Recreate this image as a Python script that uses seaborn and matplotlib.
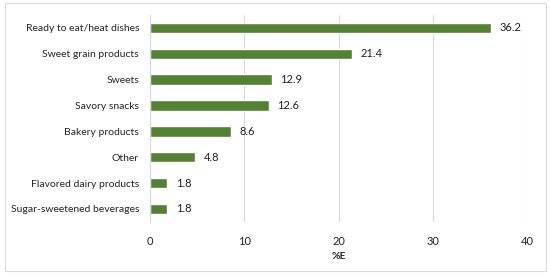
import matplotlib
matplotlib.use("Agg")
import matplotlib.pyplot as plt
import seaborn as sns
import pandas as pd
from matplotlib.patches import Rectangle

# DATA
categories = [
    "Ready to eat/heat dishes",
    "Sweet grain products",
    "Sweets",
    "Savory snacks",
    "Bakery products",
    "Other",
    "Flavored dairy products",
    "Sugar-sweetened beverages",
]
energy_pct = [36.2, 21.4, 12.9, 12.6, 8.6, 4.8, 1.8, 1.8]
x_ticks = [0, 10, 20, 30, 40]

df = pd.DataFrame({"category": categories, "value": energy_pct})

sns.set_style("white")
plt.rcParams["font.family"] = ["Lato", "DejaVu Sans"]

fig = plt.figure(figsize=(5.5, 2.77), dpi=100)
ax = fig.add_axes([0.273, 0.199, 0.685, 0.747])

sns.barplot(
    data=df,
    x="value",
    y="category",
    color="#548235",
    saturation=1,
    width=0.4,
    ax=ax
)

for i, v in enumerate(energy_pct):
    ax.text(v + 0.9, i, f"{v}", va="center", ha="left",
            fontsize=8, color="#222222")

ax.set_xlim(0, 40)
ax.set_ylim(7.5, -0.5)
ax.set_xticks(x_ticks)
ax.xaxis.grid(True, color="#d9d9d9", linewidth=0.8)
ax.set_axisbelow(True)

for side in ["top", "right", "bottom"]:
    ax.spines[side].set_visible(False)
ax.spines["left"].set_color("#d9d9d9")
ax.spines["left"].set_linewidth(0.8)

ax.set_yticks([i + 0.5 for i in range(-1, 8)], minor=True)
ax.tick_params(axis="y", which="minor", length=3, color="#d9d9d9", width=0.8)
ax.tick_params(axis="y", which="major", length=0, pad=8, labelsize=7.5)
ax.tick_params(axis="x", length=0, pad=10, labelsize=8)

ax.set_xlabel("%E", fontsize=7.5, fontweight="bold", labelpad=4)
ax.set_ylabel("")

# outer frame
fig.patches.append(Rectangle((0.009, 0.02), 0.984, 0.97, transform=fig.transFigure,
                             fill=False, edgecolor="#d9d9d9", linewidth=0.8))

plt.savefig("out.png", dpi=100)
plt.close()
